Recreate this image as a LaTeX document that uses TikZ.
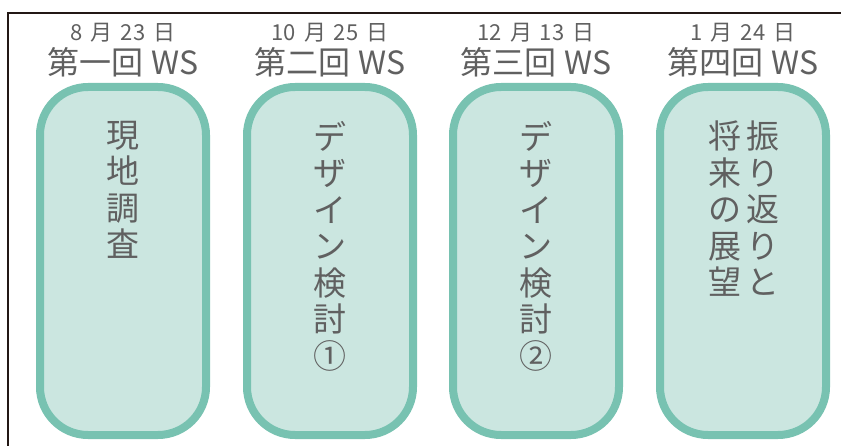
\documentclass[tikz,border=0pt]{standalone}
\usepackage{fontspec}
\setmainfont{Noto Sans CJK JP}
\definecolor{boxfill}{HTML}{CBE6E0}
\definecolor{boxline}{HTML}{78C2B1}
\definecolor{txt}{HTML}{606060}
\definecolor{frame}{HTML}{231815}
\begin{document}
\begin{tikzpicture}[x=1pt,y=-1pt,
  wsbox/.style={draw=boxline,fill=boxfill,line width=8pt,rounded corners=48pt,
    minimum width=166pt,minimum height=348pt,inner sep=0pt},
  datelbl/.style={text=txt,font=\fontsize{22}{24}\selectfont,inner sep=0pt},
  wslbl/.style={text=txt,font=\fontsize{32}{34}\selectfont,inner sep=0pt},
  vtext/.style={text=txt,font=\fontsize{33}{36.5}\selectfont,align=center,inner sep=0pt,anchor=north}]
\useasboundingbox (0,0) rectangle (841,446);
\coordinate (ftop) at (8,13);
\coordinate (fright) at (841,13);
\coordinate (fbot) at (8,446);
\draw[frame,line width=2pt] (fright) -- (ftop) -- (fbot);

\foreach \i/\cx/\d/\t in {1/123/{8\hspace{3pt} 月\hspace{3pt} 23\hspace{3pt} 日}/第一回,2/330/{10\hspace{3pt} 月\hspace{3pt} 25\hspace{3pt} 日}/第二回,3/536/{12\hspace{3pt} 月\hspace{3pt} 13\hspace{3pt} 日}/第三回,4/743/{1\hspace{3pt} 月\hspace{3pt} 24\hspace{3pt} 日}/第四回}{
  \node[wsbox] (b\i) at (\cx,261) {};
  \node[datelbl] (d\i) at (\cx,33) {\d};
  \node[wslbl] (w\i) at (\cx,62) {\t\ WS};
}
\node[vtext] (v1) at (123,121) {現\\地\\調\\査};
\node[vtext] (v2) at (330,121) {デ\\ザ\\イ\\ン\\検\\討\\①};
\node[vtext] (v3) at (536,121) {デ\\ザ\\イ\\ン\\検\\討\\②};
\node[vtext] (v4a) at (763,121) {振\\り\\返\\り\\と};
\node[vtext] (v4b) at (725,121) {将\\来\\の\\展\\望};
\end{tikzpicture}
\end{document}
